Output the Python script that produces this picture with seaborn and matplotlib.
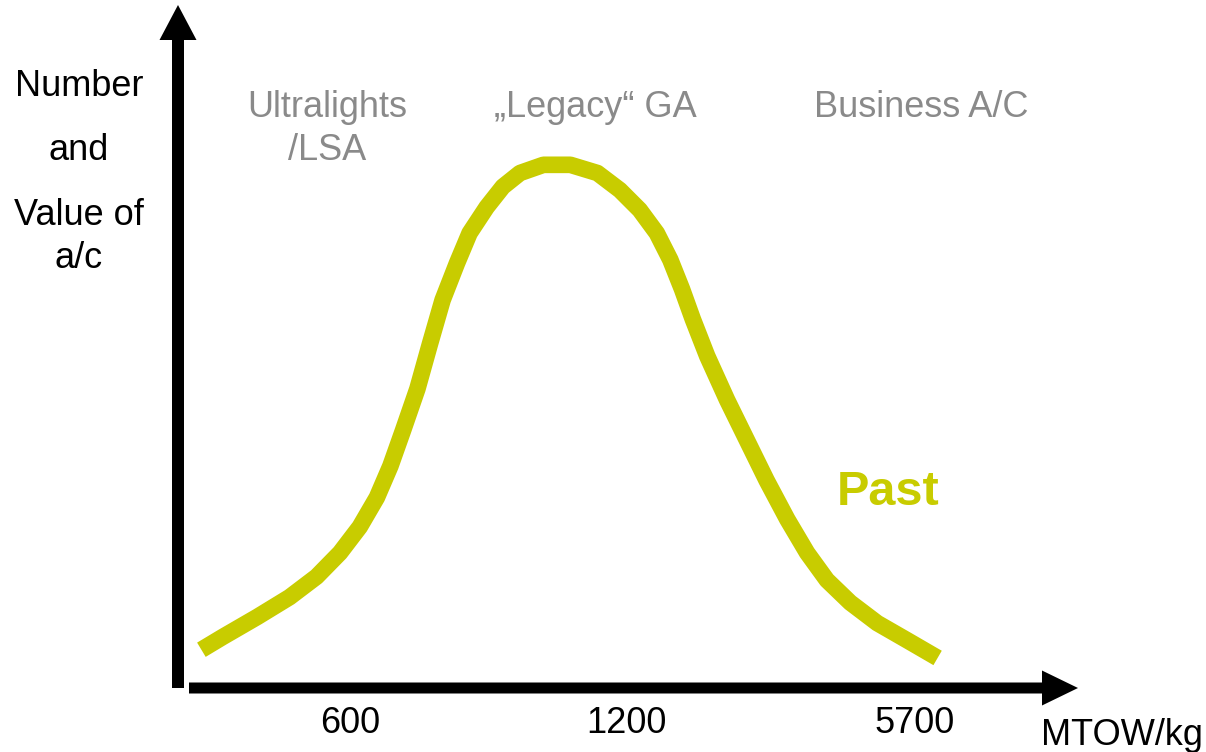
import matplotlib
matplotlib.use("Agg")
import matplotlib.pyplot as plt
from matplotlib.patches import FancyArrow
import pandas as pd
import seaborn as sns

# Curve (x: position along the MTOW axis, 0-100; y: relative number/value, 0-100)
mtow_pos = [2.6, 5.0, 8.8, 12.4, 15.4, 18.0, 20.2, 22.1, 23.6, 25.0, 26.6, 28.0, 29.4,
            31.0, 32.4, 34.3, 36.1, 38.0, 40.6, 43.6, 46.6, 49.1, 51.3, 53.2, 54.7, 56.0,
            57.2, 58.8, 61.0, 63.2, 65.4, 67.7, 69.9, 72.1, 74.7, 77.7, 81.0, 84.4]
past_value = [5.6, 7.5, 10.4, 13.3, 16.3, 19.8, 23.6, 27.9, 32.5, 37.7, 43.8, 50.4, 56.8,
              62.2, 66.6, 70.4, 73.4, 75.4, 76.6, 76.6, 75.4, 72.9, 70.0, 66.6, 62.7, 58.4,
              54.0, 48.6, 42.2, 36.3, 30.4, 24.7, 19.8, 15.8, 12.5, 9.5, 7.0, 4.4]

tick_pos = [19.1, 49.8, 81.8]
tick_labels = ["600", "1200", "5700"]

segment_lines = ["Ultralights", "/LSA", "\u201eLegacy\u201c GA", "Business A/C"]
segment_x = [327, 327, 595, 921]
segment_baselines = [117, 160, 117, 117]

y_label_lines = ["Number", "and", "Value of", "a/c"]
y_label_baselines = [96, 160, 225, 268]

curve_color = "#c8cc00"
grey = "#8a8a8a"

sns.set_theme(style="white")
plt.rcParams["font.family"] = ["Liberation Sans", "DejaVu Sans"]

W, H = 1206, 752
fig = plt.figure(figsize=(W / 100, H / 100), dpi=100)

# overlay in pixel units for the arrows and free text
deco = fig.add_axes([0, 0, 1, 1])
deco.set_xlim(0, W)
deco.set_ylim(H, 0)
deco.axis("off")

# main data axes: from vertical arrow (x=178) to arrow tip (x=1078), baseline y=688 to top y=5
ax = fig.add_axes([178 / W, (H - 688) / H, 900 / W, 683 / H])
ax.patch.set_alpha(0)

df = pd.DataFrame({"pos": mtow_pos, "value": past_value})
sns.lineplot(data=df, x="pos", y="value", ax=ax, color=curve_color, lw=12,
             solid_capstyle="butt", solid_joinstyle="round", sort=False)
ax.set_xlim(0, 100)
ax.set_ylim(0, 100)
ax.set_xticks(tick_pos, tick_labels, fontsize=26, color="black")
ax.set_yticks([])
ax.tick_params(axis="x", length=0, pad=13)
ax.set_xlabel("")
ax.set_ylabel("")
for s in ax.spines.values():
    s.set_visible(False)

# axis arrows
deco.add_patch(FancyArrow(178, 688, 0, -683, width=12, head_width=37, head_length=35,
                          length_includes_head=True, color="black", lw=0))
deco.add_patch(FancyArrow(189, 688, 889, 0, width=11, head_width=35, head_length=36,
                          length_includes_head=True, color="black", lw=0))

# texts
for line, yb in zip(y_label_lines, y_label_baselines):
    deco.text(79, yb, line, ha="center", va="baseline", fontsize=26, color="black")

for line, xc, yb in zip(segment_lines, segment_x, segment_baselines):
    deco.text(xc, yb, line, ha="center", va="baseline", fontsize=26, color=grey)

deco.text(1122, 745, "MTOW/kg", ha="center", va="baseline", fontsize=26, color="black")
deco.text(888, 505, "Past", ha="center", va="baseline", fontsize=35, fontweight="bold",
          color=curve_color)

fig.savefig("out.png", dpi=100)
